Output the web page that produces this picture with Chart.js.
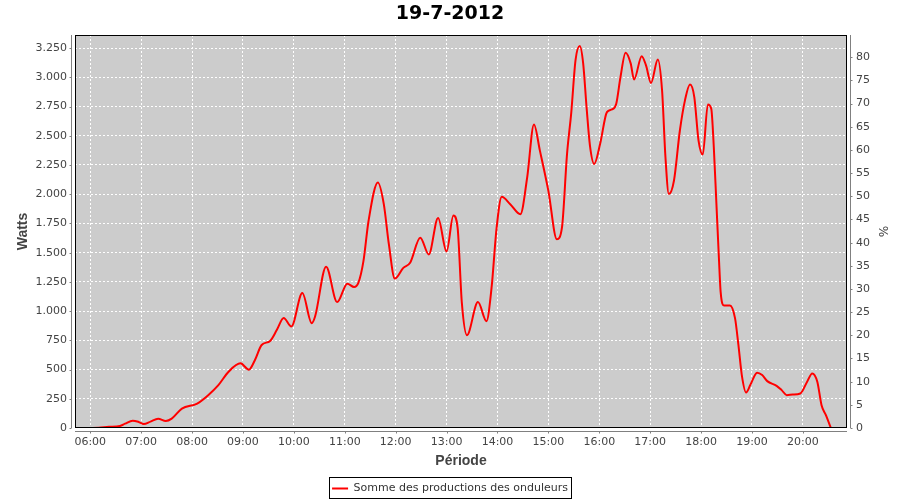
<!DOCTYPE html>
<html>
<head>
<meta charset="utf-8">
<title>19-7-2012</title>
<script src="https://cdn.jsdelivr.net/npm/chart.js@4.4.1/dist/chart.umd.min.js"></script>
<style>
    html, body { margin: 0; padding: 0; background: #fff; }
    #wrap { width: 900px; height: 500px; }
</style>
</head>
<body>
<div id="wrap"><canvas id="prodChart" width="900" height="500"></canvas></div>
<script>
// Data
const times = [
    '05:59', '06:10', '06:22', '06:35', '06:41', '06:50', '06:57', '07:03', '07:11', '07:20',
    '07:29', '07:36', '07:48', '08:06', '08:19', '08:31', '08:43', '08:57', '09:07', '09:14',
    '09:22', '09:32', '09:40', '09:48', '09:57', '10:10', '10:21', '10:25', '10:38', '10:51',
    '11:03', '11:11', '11:16', '11:22', '11:28', '11:39', '11:46', '11:52', '11:59', '12:09',
    '12:17', '12:29', '12:39', '12:50', '13:00', '13:08', '13:13', '13:18', '13:24', '13:37',
    '13:47', '13:53', '13:59', '14:05', '14:15', '14:27', '14:35', '14:43', '14:50', '15:00',
    '15:10', '15:16', '15:22', '15:27', '15:32', '15:37', '15:41', '15:45', '15:49', '15:54',
    '16:01', '16:09', '16:15', '16:20', '16:25', '16:31', '16:37', '16:41', '16:50', '16:55',
    '17:01', '17:09', '17:14', '17:18', '17:22', '17:28', '17:35', '17:41', '17:47', '17:52',
    '17:57', '18:02', '18:08', '18:12', '18:15', '18:18', '18:21', '18:23', '18:27', '18:34',
    '18:40', '18:44', '18:48', '18:53', '18:58', '19:06', '19:12', '19:18', '19:29', '19:35',
    '19:41', '19:48', '19:57', '20:05', '20:11', '20:17', '20:22', '20:27', '20:33'
];
const watts = [
    0, 3, 10, 17, 37, 63, 52, 34, 55, 80,
    60, 80, 166, 209, 281, 367, 481, 553, 499, 580,
    710, 745, 840, 940, 868, 1155, 897, 954, 1380, 1077,
    1235, 1206, 1241, 1427, 1771, 2100, 1915, 1571, 1278, 1370,
    1413, 1628, 1485, 1797, 1510, 1818, 1714, 1070, 794, 1077,
    914, 1198, 1714, 1978, 1915, 1829, 2143, 2597, 2373, 2029,
    1614, 1714, 2345, 2700, 3147, 3267, 3119, 2745, 2416, 2259,
    2431, 2702, 2726, 2774, 3003, 3210, 3119, 2981, 3181, 3104,
    2952, 3153, 2889, 2316, 2001, 2115, 2545, 2803, 2938, 2831,
    2459, 2339, 2768, 2732, 2402, 1929, 1456, 1169, 1049, 1049,
    940, 711, 453, 304, 367, 473, 453, 401, 361, 324,
    281, 286, 295, 396, 467, 396, 195, 112, 0
];
const hourLabels = ['06:00', '07:00', '08:00', '09:00', '10:00', '11:00', '12:00',
    '13:00', '14:00', '15:00', '16:00', '17:00', '18:00', '19:00', '20:00'];
const wattTicks = [0, 250, 500, 750, 1000, 1250, 1500, 1750, 2000, 2250, 2500, 2750, 3000, 3250];
const pctTicks = [0, 5, 10, 15, 20, 25, 30, 35, 40, 45, 50, 55, 60, 65, 70, 75, 80];

const seriesName = 'Somme des productions des onduleurs';
const ratedPower = 3964;        // watts that make 100 %
const wattMax = 3362;
const timeMin = '05:42';
const timeMax = '20:52';

const toMinutes = s => {
    const [h, m] = s.split(':').map(Number);
    return h * 60 + m;
};
const fmtTime = v => {
    const h = Math.floor(v / 60), m = Math.round(v % 60);
    return String(h).padStart(2, '0') + ':' + String(m).padStart(2, '0');
};
const fmtWatt = v => String(v).replace(/\B(?=(\d{3})+(?!\d))/g, '.');

const axisGray = '#808080';
const textGray = '#444444';

// plot background, frame, offset axis lines and tick marks (JFreeChart look)
const plotFrame = {
    id: 'plotFrame',
    beforeDraw(chart) {
        const { ctx, chartArea: a } = chart;
        ctx.save();
        ctx.fillStyle = '#cccccc';
        ctx.fillRect(a.left, a.top, a.right - a.left, a.bottom - a.top);
        ctx.restore();
    },
    afterDraw(chart) {
        const { ctx, chartArea: a, scales } = chart;
        ctx.save();
        ctx.lineWidth = 1;
        ctx.strokeStyle = '#000';
        ctx.strokeRect(a.left + 0.5, a.top + 0.5, a.right - a.left - 1, a.bottom - a.top - 1);

        ctx.strokeStyle = axisGray;
        ctx.beginPath();
        const lx = Math.round(a.left) - 3.5;
        const rx = Math.round(a.right) + 3.5;
        const by = Math.round(a.bottom) + 3.5;
        ctx.moveTo(lx, a.top); ctx.lineTo(lx, a.bottom);
        ctx.moveTo(rx, a.top); ctx.lineTo(rx, a.bottom);
        ctx.moveTo(a.left, by); ctx.lineTo(a.right, by);
        scales.y.ticks.forEach(t => {
            const y = Math.round(scales.y.getPixelForValue(t.value)) + 0.5;
            ctx.moveTo(lx - 2, y); ctx.lineTo(lx, y);
        });
        scales.y1.ticks.forEach(t => {
            const y = Math.round(scales.y1.getPixelForValue(t.value)) + 0.5;
            ctx.moveTo(rx, y); ctx.lineTo(rx + 2, y);
        });
        scales.x.ticks.forEach(t => {
            const x = Math.round(scales.x.getPixelForValue(t.value)) + 0.5;
            ctx.moveTo(x, by); ctx.lineTo(x, by + 2);
        });
        ctx.stroke();

        // box round the legend
        const hb = chart.legend.legendHitBoxes[0];
        if (hb) {
            ctx.strokeStyle = '#000';
            ctx.strokeRect(Math.round(hb.left) - 2.5, Math.round(hb.top) - 5.5,
                Math.round(hb.width) + 6, Math.round(hb.height) + 10);
        }
        ctx.restore();
    }
};

const ctx = document.getElementById('prodChart');
new Chart(ctx, {
    type: 'line',
    data: {
        datasets: [{
            label: seriesName,
            data: times.map((t, i) => ({ x: toMinutes(t), y: watts[i] })),
            borderColor: '#ff0000',
            backgroundColor: '#ff0000',
            borderWidth: 2,
            pointRadius: 0,
            fill: false,
            cubicInterpolationMode: 'monotone',
            yAxisID: 'y'
        }]
    },
    options: {
        responsive: false,
        animation: false,
        events: [],
        layout: { padding: { top: 0, left: 0, right: 0, bottom: -4 } },
        plugins: {
            title: {
                display: true,
                text: '19-7-2012',
                color: '#000',
                font: { family: 'DejaVu Sans', size: 19, weight: 'bold' },
                padding: { top: 3, bottom: 9.2 }
            },
            legend: {
                position: 'bottom',
                labels: {
                    color: '#333',
                    font: { family: 'DejaVu Sans', size: 11 },
                    usePointStyle: true,
                    pointStyle: 'line',
                    pointStyleWidth: 16,
                    padding: 7
                }
            },
            tooltip: { enabled: false }
        },
        scales: {
            x: {
                type: 'linear',
                min: toMinutes(timeMin),
                max: toMinutes(timeMax),
                afterBuildTicks: s => { s.ticks = hourLabels.map(l => ({ value: toMinutes(l) })); },
                afterFit: s => { s.height = 48; },
                ticks: {
                    autoSkip: false,
                    maxRotation: 0,
                    padding: 8,
                    color: textGray,
                    font: { family: 'DejaVu Sans', size: 11 },
                    callback: v => fmtTime(v)
                },
                grid: { color: '#ffffff', lineWidth: 1, drawTicks: false },
                border: { display: false, dash: [2, 2] },
                title: {
                    display: true,
                    text: 'Période',
                    color: textGray,
                    font: { family: 'Liberation Sans', size: 14, weight: 'bold' },
                    padding: { top: 0, bottom: 6.6 }
                }
            },
            y: {
                position: 'left',
                min: 0,
                max: wattMax,
                afterBuildTicks: s => { s.ticks = wattTicks.map(v => ({ value: v })); },
                afterFit: s => { s.width = 75; },
                ticks: {
                    padding: 8,
                    color: textGray,
                    font: { family: 'DejaVu Sans', size: 11 },
                    callback: v => fmtWatt(v)
                },
                grid: { color: '#ffffff', lineWidth: 1, drawTicks: false },
                border: { display: false, dash: [2, 2] },
                title: {
                    display: true,
                    text: 'Watts',
                    color: textGray,
                    font: { family: 'Liberation Sans', size: 14, weight: 'bold' },
                    padding: { top: 15, bottom: 0 }
                }
            },
            y1: {
                position: 'right',
                min: 0,
                max: wattMax / ratedPower * 100,
                afterBuildTicks: s => { s.ticks = pctTicks.map(v => ({ value: v })); },
                afterFit: s => { s.width = 53; },
                ticks: {
                    padding: 9,
                    color: textGray,
                    font: { family: 'DejaVu Sans', size: 11 }
                },
                grid: { drawOnChartArea: false, drawTicks: false },
                border: { display: false },
                title: {
                    display: true,
                    text: '%',
                    color: textGray,
                    font: { family: 'DejaVu Sans', size: 12 },
                    padding: { top: 11, bottom: 0 }
                }
            }
        }
    },
    plugins: [plotFrame]
});
</script>
</body>
</html>
